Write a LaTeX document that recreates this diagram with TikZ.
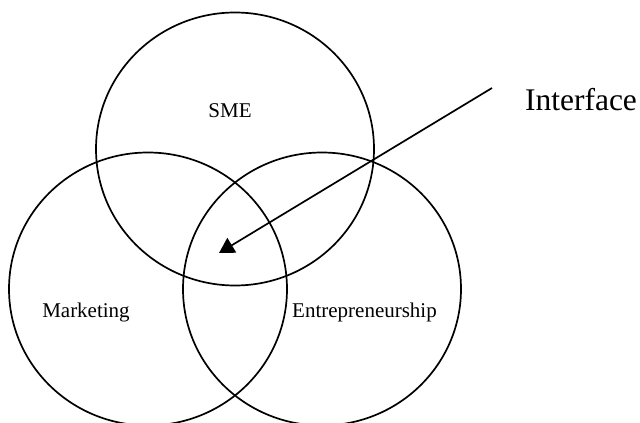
\documentclass[tikz,border=0pt]{standalone}
\usepackage{fontspec}
\setmainfont{Liberation Serif}
\usetikzlibrary{shapes.geometric,arrows.meta}
\begin{document}
\begin{tikzpicture}[x=1pt,y=-1pt,
  ring/.style={draw,line width=1.7pt,ellipse,minimum width=278pt,minimum height=273pt,inner sep=0pt},
  lbl/.style={font=\fontsize{21}{25}\selectfont,anchor=base,inner sep=0pt},
  big/.style={font=\fontsize{31.5}{36}\selectfont,anchor=base,inner sep=0pt},
  pointer/.style={line width=1.7pt,-{Triangle[length=15pt,width=17pt]}}]
\useasboundingbox (0,0) rectangle (640,423);
\node[ring] (sme) at (235,149) {};
\node[ring] (mkt) at (148,289) {};
\node[ring] (ent) at (322,289) {};
\node[lbl] (smet) at (230,117) {SME};
\node[lbl] (mktt) at (86,317) {Marketing};
\node[lbl] (entt) at (364.5,317) {Entrepreneurship};
\node[big] (intf) at (581,110) {Interface};
\coordinate (from) at (492,88);
\coordinate (tip) at (219,253);
\draw[pointer] (from) -- (tip);
\end{tikzpicture}
\end{document}
